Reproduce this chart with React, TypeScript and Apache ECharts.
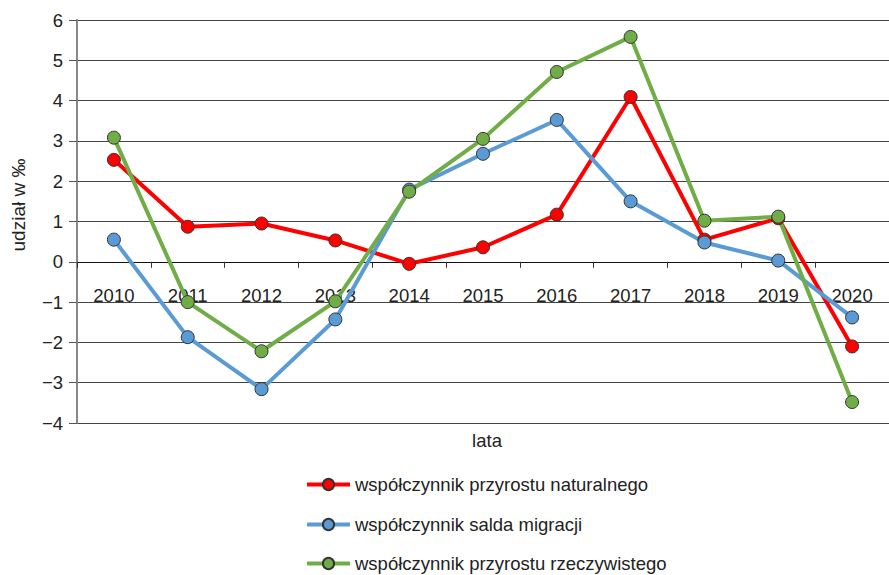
import React, { useEffect, useRef } from "react";
import * as echarts from "echarts";

const years = ["2010", "2011", "2012", "2013", "2014", "2015", "2016", "2017", "2018", "2019", "2020"];
const naturalny = [2.53, 0.87, 0.95, 0.53, -0.05, 0.36, 1.17, 4.09, 0.55, 1.08, -2.1];
const migracja = [0.55, -1.87, -3.16, -1.43, 1.79, 2.68, 3.52, 1.5, 0.48, 0.03, -1.38];
const rzeczywisty = [3.08, -1.0, -2.22, -0.98, 1.74, 3.05, 4.71, 5.58, 1.02, 1.12, -3.48];
const seriesNames = [
  "współczynnik przyrostu naturalnego",
  "współczynnik salda migracji",
  "współczynnik przyrostu rzeczywistego",
];
const colors = ["#ff0000", "#5b9bd5", "#70ad47"];
const legendTops = [475, 515, 554];
const FONT = "Liberation Sans, Arial, sans-serif";
const Y_MIN = -4;
const Y_MAX = 6;

export default function App() {
  const ref = useRef<HTMLDivElement>(null);
  useEffect(() => {
    document.body.style.margin = "0";
    const chart = echarts.init(ref.current!, null, { renderer: "svg" });
    const data = [naturalny, migracja, rzeczywisty];
    const gridTop = 20;
    const gridBottom = 152;
    const gridH = 575 - gridTop - gridBottom;
    const zeroOffset = -(gridH * (0 - Y_MIN)) / (Y_MAX - Y_MIN);
    chart.setOption({
      animation: false,
      textStyle: { fontFamily: FONT },
      grid: { left: 77, top: gridTop, right: -5, bottom: gridBottom, containLabel: false },
      legend: seriesNames.map((name, i) => ({
        orient: "horizontal",
        left: 305,
        top: legendTops[i],
        padding: 0,
        itemWidth: 43,
        itemHeight: 14,
        lineStyle: { width: 4 },
        textStyle: { fontSize: 18.5, color: "#222", fontFamily: FONT },
        data: [name],
      })),
      xAxis: {
        type: "category",
        data: years,
        boundaryGap: true,
        offset: zeroOffset,
        axisLine: { onZero: false, lineStyle: { color: "#111", width: 1 } },
        axisTick: { show: true, length: 6, lineStyle: { color: "#333" } },
        axisLabel: { margin: 24, fontSize: 18.5, color: "#222", fontFamily: FONT },
        splitLine: { show: false },
      },
      yAxis: {
        type: "value",
        min: Y_MIN,
        max: Y_MAX,
        interval: 1,
        axisLine: { show: true, lineStyle: { color: "#888", width: 2 } },
        axisTick: { show: true, length: 8, lineStyle: { color: "#555" } },
        axisLabel: {
          margin: 14,
          fontSize: 18.5,
          color: "#222",
          fontFamily: FONT,
          formatter: (v: number) => String(v).replace("-", "\u2212"),
        },
        splitLine: { show: true, lineStyle: { color: "#444", width: 1 } },
      },
      graphic: [
        {
          type: "text",
          x: 18,
          y: 205,
          rotation: Math.PI / 2,
          style: {
            text: "udział w ‰",
            fontSize: 19,
            fontFamily: FONT,
            fill: "#222",
            align: "center",
            verticalAlign: "middle",
          },
        },
        {
          type: "text",
          x: 487,
          y: 440,
          style: {
            text: "lata",
            fontSize: 18.5,
            fontFamily: FONT,
            fill: "#222",
            align: "center",
            verticalAlign: "middle",
          },
        },
      ],
      series: seriesNames.map((name, i) => ({
        name,
        type: "line",
        data: data[i],
        symbol: "circle",
        symbolSize: 13,
        lineStyle: { color: colors[i], width: 4 },
        itemStyle: { color: colors[i], borderColor: "#333", borderWidth: 1 },
      })),
    });
    return () => chart.dispose();
  }, []);
  return <div ref={ref} style={{ width: 889, height: 575 }} />;
}
